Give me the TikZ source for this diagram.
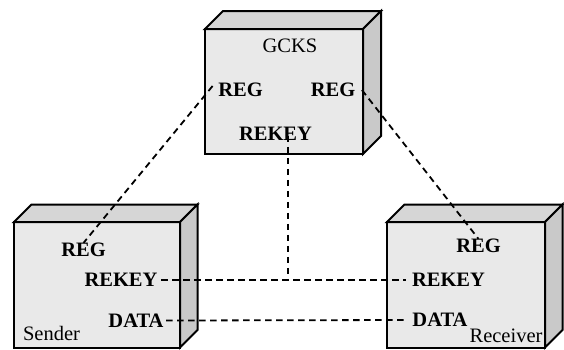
\documentclass[tikz,border=0pt]{standalone}
\usepackage{fontspec}
\setmainfont{Liberation Serif}
\tikzset{
  frontface/.style={fill=gray!17, draw=black, line width=2pt, line join=miter},
  topface/.style={fill=gray!32, draw=black, line width=2pt, line join=miter},
  sideface/.style={fill=gray!42, draw=black, line width=2pt, line join=miter},
  lbl/.style={font=\fontsize{20.5}{24}\selectfont\bfseries, inner sep=1.5pt},
  plain/.style={font=\fontsize{20.5}{24}\selectfont, inner sep=1pt},
  dl/.style={dash pattern=on 6.5pt off 4.5pt, line width=1.8pt}
}
\newcommand{\drawblock}[5]{% x1,y1,x2,y2,depth
  \fill[frontface] (#1,#2) rectangle (#3,#4);
  \draw[topface] (#1,#2) -- ++(#5,-#5) -- ++(#3-#1,0) -- (#3,#2) -- cycle;
  \draw[sideface] (#3,#2) -- ++(#5,-#5) -- ++(0,#4-#2) -- (#3,#4) -- cycle;
}
\begin{document}
\begin{tikzpicture}[x=1pt,y=-1pt]
\useasboundingbox (0,0) rectangle (564,349);
% blocks
\drawblock{205}{29}{363}{154}{18}
\drawblock{14}{222}{180}{347.5}{17.5}
\drawblock{387}{222}{545}{347.5}{17.5}
% GCKS labels
\node[plain] (gname) at (290,45.5) {GCKS};
\node[lbl] (gregl) at (240.5,90) {REG};
\node[lbl] (gregr) at (333,90) {REG};
\node[lbl] (gkey) at (275.5,133.5) {REKEY};
% Sender labels
\node[lbl] (sreg) at (83.5,249.5) {REG};
\node[lbl] (skey) at (121,280) {REKEY};
\node[lbl] (sdata) at (136,320.5) {DATA};
\node[plain] (sname) at (51.5,333) {Sender};
% Receiver labels
\node[lbl] (rreg) at (478.5,245.5) {REG};
\node[lbl] (rkey) at (448.5,280) {REKEY};
\node[lbl] (rdata) at (440,320) {DATA};
\node[plain] (rname) at (506,336) {Receiver};
% connectors
\coordinate (j) at (288,280);
\draw[dl] ([xshift=-4pt,yshift=4pt]gregl.west) -- ([yshift=-2pt]sreg.north);
\draw[dl] ([xshift=5pt]gregr.east) -- ([yshift=-2pt]rreg.north);
\draw[dl] ([yshift=6pt]gkey.south -| j) -- (j);
\draw[dl] ([xshift=2pt]skey.east) -- ([xshift=-4pt]rkey.west);
\draw[dl] ([xshift=1pt]sdata.east) -- ([xshift=-4pt]rdata.west);
\end{tikzpicture}
\end{document}
